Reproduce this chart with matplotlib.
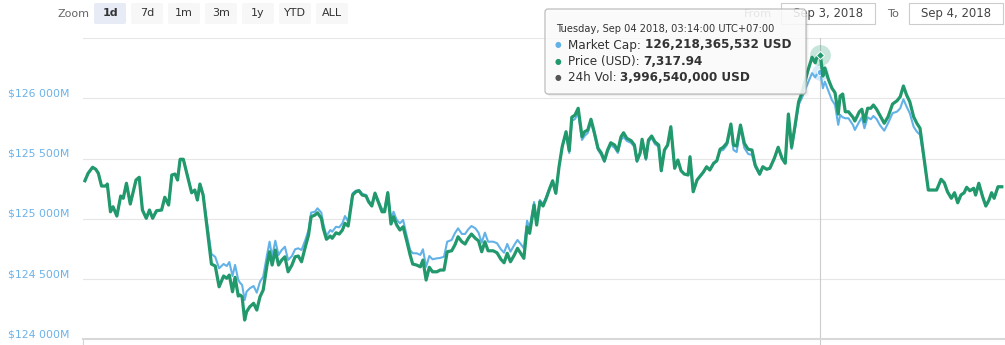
import matplotlib
matplotlib.use('Agg')
import matplotlib.pyplot as plt
from matplotlib.patches import FancyBboxPatch, Rectangle
from matplotlib.transforms import IdentityTransform

plt.rcParams['font.family'] = ['DejaVu Sans']

# minutes since Sep 3 2018 08:00 (UTC+7)
minutes = [3, 8, 15, 20, 24, 29, 36, 38, 43, 47, 53, 59, 63, 68, 74, 83, 88, 93, 99, 104,
           109, 115, 123, 128, 134, 139, 144, 148, 152, 157, 170, 175, 179, 183, 188, 201, 207, 213, 220, 225,
           229, 234, 238, 243, 246, 249, 253, 256, 261, 267, 272, 277, 282, 288, 292, 296, 301, 306, 311, 316,
           321, 327, 332, 337, 342, 348, 353, 357, 363, 367, 373, 376, 381, 387, 390, 396, 401, 406, 410, 415,
           422, 427, 432, 437, 443, 447, 452, 457, 462, 468, 472, 477, 482, 486, 491, 496, 501, 507, 512, 516,
           522, 528, 532, 537, 542, 547, 554, 559, 565, 570, 577, 582, 587, 593, 598, 603, 608, 614, 619, 624,
           629, 634, 642, 648, 654, 659, 664, 669, 675, 680, 685, 690, 695, 699, 706, 710, 715, 720, 725, 730,
           735, 740, 745, 750, 756, 761, 765, 770, 775, 781, 785, 790, 795, 800, 806, 811, 816, 821, 826, 832,
           837, 842, 846, 851, 858, 863, 867, 872, 875, 881, 885, 890, 895, 901, 905, 910, 915, 920, 926, 931,
           936, 941, 947, 950, 955, 961, 966, 971, 976, 981, 987, 992, 997, 1002, 1008, 1014, 1018, 1023, 1029, 1035,
           1041, 1047, 1052, 1059, 1064, 1070, 1075, 1082, 1088, 1094, 1099, 1104, 1109, 1114, 1120, 1125, 1130, 1134, 1141, 1146,
           1148, 1154, 1158, 1161, 1167, 1172, 1177, 1182, 1185, 1189, 1193, 1198, 1205, 1208, 1215, 1219, 1223, 1228, 1233, 1237,
           1242, 1247, 1254, 1260, 1267, 1274, 1279, 1284, 1289, 1294, 1300, 1305, 1310, 1315, 1319, 1323, 1329, 1336, 1343, 1348,
           1353, 1359, 1364, 1369, 1374, 1379, 1383, 1388, 1394, 1397, 1402, 1408, 1413, 1418, 1422, 1426, 1432, 1438]

price_usd = [7267.7, 7270.7, 7273.1, 7272.3, 7270.7, 7265.6, 7265.6, 7266.4, 7255.3, 7257.3,
             7253.6, 7261.6, 7260.7, 7266.7, 7258.4, 7268.0, 7269.1, 7256.0, 7252.7, 7256.0,
             7252.7, 7255.7, 7256.0, 7261.1, 7258.0, 7270.0, 7270.4, 7268.0, 7276.3, 7276.3,
             7262.9, 7264.0, 7260.0, 7266.4, 7262.0, 7234.4, 7233.6, 7225.3, 7229.6, 7228.7,
             7230.0, 7223.3, 7229.1, 7221.6, 7222.0, 7221.3, 7212.0, 7215.3, 7217.3, 7218.7,
             7216.0, 7221.3, 7224.0, 7234.0, 7239.3, 7234.0, 7240.0, 7234.0, 7236.0, 7237.3,
             7231.3, 7234.0, 7237.3, 7237.6, 7235.3, 7241.3, 7246.0, 7253.3, 7254.0, 7254.9,
             7252.7, 7248.7, 7244.3, 7245.6, 7244.7, 7246.9, 7246.4, 7248.0, 7250.7, 7249.6,
             7262.0, 7263.3, 7263.7, 7262.0, 7261.6, 7259.3, 7257.6, 7262.7, 7259.3, 7255.3,
             7255.3, 7262.9, 7250.4, 7253.3, 7250.0, 7248.0, 7249.3, 7243.3, 7238.0, 7234.4,
             7234.0, 7233.3, 7236.0, 7228.0, 7233.1, 7231.3, 7231.3, 7232.0, 7232.0, 7239.3,
             7239.7, 7242.0, 7245.3, 7243.3, 7242.4, 7244.7, 7246.4, 7244.7, 7243.7, 7239.3,
             7243.3, 7239.7, 7239.7, 7238.9, 7236.3, 7234.9, 7238.7, 7235.3, 7238.0, 7240.7,
             7238.7, 7236.7, 7249.3, 7246.7, 7258.0, 7250.0, 7259.3, 7257.6, 7260.7, 7264.3,
             7267.7, 7262.7, 7273.3, 7281.3, 7287.3, 7279.7, 7293.1, 7294.0, 7296.7, 7285.3,
             7287.3, 7288.0, 7292.3, 7287.3, 7280.7, 7278.9, 7275.7, 7280.0, 7282.9, 7282.0,
             7279.7, 7285.3, 7286.9, 7284.7, 7283.7, 7282.0, 7275.7, 7278.9, 7284.3, 7276.7,
             7284.0, 7285.6, 7283.3, 7282.0, 7271.7, 7280.0, 7282.0, 7289.3, 7272.7, 7276.0,
             7271.7, 7270.4, 7270.0, 7277.3, 7263.3, 7268.0, 7269.6, 7271.2, 7273.3, 7272.0,
             7274.7, 7275.7, 7280.3, 7281.1, 7282.9, 7290.4, 7282.0, 7281.6, 7290.0, 7282.7,
             7280.3, 7280.0, 7274.0, 7270.4, 7273.3, 7272.3, 7272.7, 7276.7, 7281.1, 7276.7,
             7274.7, 7294.4, 7281.1, 7289.1, 7299.3, 7302.7, 7307.3, 7311.3, 7317.1, 7314.9,
             7316.7, 7317.94, 7309.6, 7312.8, 7308.0, 7304.8, 7302.9, 7294.4, 7301.6, 7302.4,
             7295.3, 7295.3, 7293.1, 7291.6, 7295.3, 7296.3, 7291.3, 7296.7, 7296.7, 7298.0,
             7296.3, 7294.0, 7290.7, 7293.3, 7298.4, 7299.7, 7301.3, 7305.6, 7302.0, 7299.3,
             7293.3, 7290.7, 7288.7, 7279.3, 7272.0, 7264.0, 7264.0, 7264.0, 7268.3, 7266.9,
             7263.3, 7260.7, 7262.9, 7258.9, 7262.0, 7262.9, 7265.1, 7263.7, 7264.7, 7262.0,
             7266.7, 7261.3, 7257.6, 7260.0, 7262.9, 7260.7, 7265.3, 7265.3]

market_cap_m = [125316, 125378, 125427, 125411, 125378, 125272, 125272, 125289, 125059, 125100,
                125023, 125189, 125170, 125295, 125123, 125322, 125344, 125073, 125004, 125073,
                125004, 125067, 125073, 125178, 125115, 125364, 125372, 125322, 125494, 125494,
                125217, 125239, 125156, 125289, 125198, 124708, 124683, 124589, 124625, 124608,
                124641, 124525, 124617, 124492, 124467, 124451, 124326, 124395, 124423, 124442,
                124387, 124478, 124519, 124700, 124810, 124685, 124818, 124700, 124741, 124768,
                124658, 124691, 124747, 124755, 124741, 124824, 124907, 125051, 125059, 125087,
                125051, 124963, 124857, 124907, 124893, 124934, 124929, 124963, 125023, 124976,
                125212, 125233, 125239, 125206, 125198, 125150, 125115, 125218, 125150, 125081,
                125081, 125222, 124990, 125059, 124990, 124963, 124990, 124851, 124741, 124714,
                124714, 124700, 124747, 124602, 124691, 124664, 124672, 124675, 124685, 124810,
                124824, 124880, 124921, 124874, 124874, 124913, 124940, 124921, 124885, 124802,
                124885, 124810, 124810, 124797, 124747, 124719, 124791, 124727, 124783, 124824,
                124791, 124755, 124984, 124924, 125139, 124973, 125156, 125123, 125181, 125256,
                125316, 125212, 125432, 125598, 125723, 125546, 125812, 125828, 125878, 125654,
                125687, 125712, 125803, 125704, 125571, 125530, 125471, 125554, 125613, 125588,
                125546, 125654, 125679, 125646, 125629, 125596, 125471, 125538, 125646, 125488,
                125637, 125671, 125621, 125596, 125397, 125571, 125613, 125764, 125419, 125488,
                125399, 125372, 125364, 125515, 125225, 125322, 125355, 125388, 125432, 125405,
                125461, 125482, 125563, 125571, 125613, 125762, 125571, 125554, 125754, 125588,
                125538, 125530, 125430, 125364, 125432, 125411, 125419, 125502, 125593, 125502,
                125461, 125853, 125579, 125737, 125945, 126000, 126069, 126119, 126208, 126174,
                126194, 126218.37, 126083, 126138, 126055, 125986, 125945, 125779, 125862, 125842,
                125834, 125834, 125779, 125737, 125806, 125842, 125751, 125842, 125826, 125853,
                125828, 125779, 125731, 125793, 125876, 125889, 125917, 125992, 125930, 125876,
                125764, 125723, 125696, 125530, 125388, 125239, 125239, 125239, 125328, 125300,
                125225, 125170, 125217, 125134, 125198, 125217, 125261, 125233, 125253, 125198,
                125295, 125183, 125106, 125156, 125217, 125170, 125266, 125266]

y_ticks = [124000, 124500, 125000, 125500, 126000, 126500]
y_tick_labels = ['$124 000M', '$124 500M', '$125 000M', '$125 500M', '$126 000M', '']

hover_minute = 1154
tooltip_header = 'Tuesday, Sep 04 2018, 03:14:00 UTC+07:00'
tooltip_rows = [('Market Cap: ', '126,218,365,532 USD'),
                ('Price (USD): ', '7,317.94'),
                ('24h Vol: ', '3,996,540,000 USD')]
zoom_buttons = ['1d', '7d', '1m', '3m', '1y', 'YTD', 'ALL']
date_from = 'Sep 3, 2018'
date_to = 'Sep 4, 2018'

blue = '#62b2e8'
green = '#21996c'
grey_dot = '#555555'
label_blue = '#6cb2e8'

W, H = 1005, 345
fig = plt.figure(figsize=(W / 100, H / 100), dpi=100)
PX = IdentityTransform()

def put(x, y, s, **kw):
    return fig.text(x, H - y, s, transform=PX, **kw)

ax = fig.add_axes([83 / W, 1 - 339.3 / H, 922 / W, (339.3 - 38) / H])
ax.plot(minutes, market_cap_m, color=blue, lw=1.5, solid_joinstyle='round', zorder=2)
ax.set_xlim(0, 1443)
ax.set_ylim(124000, 126500)
ax.set_yticks(y_ticks)
ax.set_yticklabels(y_tick_labels)
ax.tick_params(axis='y', length=0, pad=54, labelsize=7.8, labelcolor=label_blue)
for lbl in ax.get_yticklabels():
    lbl.set_horizontalalignment('left')
    lbl.set_verticalalignment('bottom')
ax.set_xticks([0])
ax.tick_params(axis='x', length=4, color='#ccd6eb', labelbottom=False)
ax.grid(axis='y', color='#e6e6e6', lw=0.8)
ax.set_axisbelow(True)
for s in ['top', 'right', 'left']:
    ax.spines[s].set_visible(False)
ax.spines['bottom'].set_color('#d8d8d8')
ax.spines['bottom'].set_linewidth(1.5)

# crosshair
ax.axvline(hover_minute, ymin=-0.02, color='#cccccc', lw=0.8, clip_on=False, zorder=1)

i = minutes.index(hover_minute)
ax.plot(minutes[i], market_cap_m[i], 'o', ms=12, color=blue, alpha=0.25, mec='none', zorder=3)
ax.plot(minutes[i], market_cap_m[i], 'o', ms=4.5, color=blue, mec='white', mew=0.6, zorder=4)

ax2 = ax.twinx()
ax2.plot(minutes, price_usd, color=green, lw=2.3, solid_joinstyle='round', zorder=2)
ax2.set_ylim(7204.3, 7324.8)
ax2.set_xlim(0, 1443)
ax2.plot(minutes[i], price_usd[i], 'o', ms=15, color=green, alpha=0.25, mec='none', zorder=3)
ax2.plot(minutes[i], price_usd[i], 'D', ms=4.3, color=green, mec='white', mew=0.7, zorder=4)
ax2.axis('off')

# range selector buttons
put(57, 14, 'Zoom', fontsize=8, color='#666666', va='center')
for k, lab in enumerate(zoom_buttons):
    x0 = 94 + k * 37
    fc = '#e6ebf5' if k == 0 else '#f7f7f7'
    fig.add_artist(FancyBboxPatch((x0, H - 24), 32, 21, boxstyle='round,pad=0,rounding_size=2',
                                  transform=PX, fc=fc, ec='none', zorder=1))
    put(x0 + 16, 13.5, lab, fontsize=8, color='#333333', ha='center', va='center',
        fontweight='bold' if k == 0 else 'normal', zorder=2)

# date inputs
put(744, 14, 'From', fontsize=8.2, color='#666666', va='center', zorder=2)
put(887, 14, 'To', fontsize=8.2, color='#666666', va='center', zorder=2)
for x0, txt in [(781, date_from), (909, date_to)]:
    fig.add_artist(Rectangle((x0, H - 24), 94, 21, transform=PX, fc='white', ec='#cccccc',
                             lw=0.8, zorder=1))
    put(x0 + 47, 13.5, txt, fontsize=8.4, color='#444444', ha='center', va='center', zorder=2)

# tooltip
for d, a in [(3, 0.025), (2, 0.04), (1, 0.06)]:
    fig.add_artist(FancyBboxPatch((545 + d, H - 94 - d), 261, 85, boxstyle='round,pad=0,rounding_size=3',
                                  transform=PX, fc=(0, 0, 0, a), ec='none', zorder=9))
fig.add_artist(FancyBboxPatch((545, H - 94), 261, 85, boxstyle='round,pad=0,rounding_size=3',
                              transform=PX, fc=(1, 1, 1, 0.85), ec='#b5b5b5', lw=0.8, zorder=10))
put(556, 29, tooltip_header, fontsize=7.1, color='#333333', va='center', zorder=11)

renderer = fig.canvas.get_renderer()
dot_colors = [blue, green, grey_dot]
for k, (name, val) in enumerate(tooltip_rows):
    y = 45 + k * 16.3
    put(558, y, '\u25cf', fontsize=5.5, color=dot_colors[k], ha='center', va='center', zorder=11)
    t1 = put(568, y, name, fontsize=8.65, color='#333333', va='center', zorder=11)
    w = t1.get_window_extent(renderer).width
    put(568 + w, y, val, fontsize=8.65, color='#333333', va='center', fontweight='bold', zorder=11)

fig.savefig('out.png', dpi=100)
